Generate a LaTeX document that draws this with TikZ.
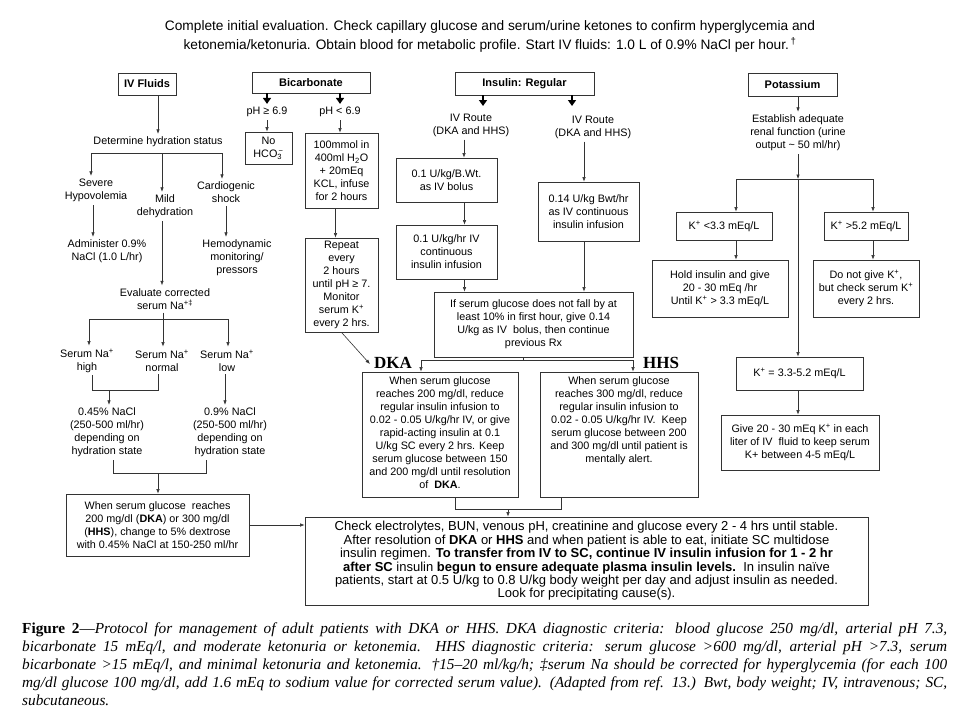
\documentclass[tikz,border=0pt]{standalone}
\usepackage{fontspec}
\setmainfont{Liberation Sans}
\newfontfamily\capserif{Liberation Serif}
\usetikzlibrary{arrows.meta,calc}
\newcommand\fs{\fontsize{10.8}{13}\selectfont}
\newcommand\capline[1]{\makebox[925pt][s]{#1}}
\begin{document}
\begin{tikzpicture}[x=1pt,y=-1pt,
  box/.style={draw=black!80, line width=0.8pt, align=center, inner sep=2pt, font=\fs},
  lbl/.style={align=center, inner sep=3pt, font=\fs},
  hdr/.style={draw=black!80, line width=0.8pt, font=\fontsize{11}{13}\selectfont\bfseries, inner sep=0pt},
  arr/.style={draw=black!80, line width=0.6pt, -{Latex[length=4.5pt,width=3.5pt]}},
  thk/.style={draw=black, line width=1.5pt, -{Triangle[length=6pt,width=8pt]}},
  ln/.style={draw=black!80, line width=0.6pt},
  big/.style={font=\capserif\fontsize{17}{17}\selectfont\bfseries, inner sep=1pt}]
\useasboundingbox (0,0) rectangle (960,720);
\fill[white] (0,0) rectangle (960,720);

% header
\node[font=\fontsize{13.7}{19}\selectfont, align=center] (head) at (490,36.5)
 {Complete initial evaluation. Check capillary glucose and serum/urine ketones to confirm hyperglycemia and\\
  ketonemia/ketonuria. Obtain blood for metabolic profile. Start IV fluids: 1.0 L of 0.9\% NaCl per hour.\textsuperscript{\,†}};

\node[hdr, minimum width=58, minimum height=22] (ivf) at (147,84) {IV Fluids};
\node[hdr, minimum width=118, minimum height=21] (bic) at (311,82.5) {Bicarbonate};
\node[hdr, minimum width=139, minimum height=23] (ins) at (524.5,83.5) {Insulin: Regular};
\node[hdr, minimum width=89, minimum height=23] (pot) at (792.5,84.5) {Potassium};

% IV fluids column
\node[lbl] (dhs) at (158,142) {Determine hydration status};
\draw[arr] (ivf.south -| dhs.north) -- (dhs.north);
\coordinate (b1) at (91,153); \coordinate (b2) at (162,153); \coordinate (b3) at (222,153);
\draw[ln] (b1) -- (b3);
\node[lbl] (sev) at (96,190.5) {Severe\\Hypovolemia};
\node[lbl] (mild) at (165,206.5) {Mild\\dehydration};
\node[lbl] (card) at (226,192.5) {Cardiogenic\\shock};
\draw[arr] (b1) -- (b1 |- sev.north);
\draw[arr] (b2) -- (b2 |- mild.north);
\draw[arr] (b3) -- (b3 |- card.north);
\node[lbl] (adm) at (107,251.5) {Administer 0.9\%\\NaCl (1.0 L/hr)};
\node[lbl] (hemo) at (237,258) {Hemodynamic\\monitoring/\\pressors};
\node[lbl] (evs) at (165,299) {Evaluate corrected\\serum Na\textsuperscript{+‡}};
\draw[arr] ([xshift=-3]sev.south) -- ([xshift=-3]sev.south |- adm.north);
\draw[arr] (card.south) -- (card.south |- hemo.north);
\draw[arr] ([xshift=-3]mild.south) -- ([xshift=-3]mild.south |- evs.north);

\coordinate (c1) at (89,319); \coordinate (c2) at (163,319); \coordinate (c3) at (228,319);
\draw[ln] (evs.south -| c2) -- (c2);
\draw[ln] (c1) -- (c3);
\node[lbl] (nah) at (87,360.5) {Serum Na\textsuperscript{+}\\high};
\node[lbl] (nan) at (162,360.5) {Serum Na\textsuperscript{+}\\normal};
\node[lbl] (nal) at (227,360.5) {Serum Na\textsuperscript{+}\\low};
\draw[arr] (c1) -- (c1 |- nah.north);
\draw[arr] (c2) -- (c2 |- nan.north);
\draw[arr] (c3) -- (c3 |- nal.north);
\coordinate (d1) at (92,390); \coordinate (d2) at (158,390); \coordinate (d0) at (109,390);
\draw[ln] (nah.south -| d1) -- (d1) -- (d2) -- (nan.south -| d2);
\node[lbl] (s045) at (107,432.5) {0.45\% NaCl\\(250-500 ml/hr)\\depending on\\hydration state};
\node[lbl] (s09) at (230,432.5) {0.9\% NaCl\\(250-500 ml/hr)\\depending on\\hydration state};
\draw[arr] (d0) -- (d0 |- s045.north);
\draw[arr] ([xshift=-2]nal.south) -- ([xshift=-2]nal.south |- s09.north);
\coordinate (e1) at (113,473); \coordinate (e2) at (206,473); \coordinate (e0) at (158,473);
\draw[ln] (s045.south -| e1) -- (e1) -- (e2) -- (s09.south -| e2);
\node[box, minimum width=183, minimum height=62] (ivd) at (157.5,525)
 {When serum glucose\ \ reaches\\200 mg/dl (\textbf{DKA}) or 300 mg/dl\\(\textbf{HHS}), change to 5\% dextrose\\with 0.45\% NaCl at 150-250 ml/hr};
\draw[arr] (e0) -- (e0 |- ivd.north);

% Bicarbonate column
\node[lbl] (ph1) at (267,112) {pH ≥ 6.9};
\node[lbl] (ph2) at (340,112) {pH < 6.9};
\draw[thk] (bic.south -| ph1.north) -- (ph1.north);
\draw[thk] (bic.south -| ph2.north) -- (ph2.north);
\node[box, minimum width=47, minimum height=32] (noh) at (268.5,148) {No\\HCO\rlap{\textsubscript{3}}\textsuperscript{\,−}};
\draw[arr] (ph1.south) -- (noh.north -| ph1.south);
\node[box, minimum width=73, minimum height=75] (b100) at (341.5,170.5)
 {100mmol in\\400ml H\textsubscript{2}O\\+ 20mEq\\KCL, infuse\\for 2 hours};
\draw[arr] (ph2.south) -- (ph2.south |- b100.north);
\node[box, minimum width=73, minimum height=94] (brep) at (341.5,285)
 {Repeat\\every\\2 hours\\until pH ≥ 7.\\Monitor\\serum K\textsuperscript{+}\\every 2 hrs.};
\draw[arr] ([xshift=-6]b100.south) -- ([xshift=-6]brep.north);
\node[big] (dkal) at (393,363) {DKA};
\node[big] (hhsl) at (661,363) {HHS};
\draw[arr] (brep.south) -- ([shift={(-3,1)}]dkal.west);

% Insulin column
\node[lbl] (ivr1) at (471,125) {IV Route\\(DKA and HHS)};
\node[lbl] (ivr2) at (593,127) {IV Route\\(DKA and HHS)};
\coordinate (g1) at (483,106); \coordinate (g2) at (572,106);
\draw[thk] (ins.south -| g1) -- (g1);
\draw[thk] (ins.south -| g2) -- (g2);
\node[box, minimum width=101, minimum height=44] (bol) at (446.5,180) {0.1 U/kg/B.Wt.\\as IV bolus};
\draw[arr] ([xshift=-7]ivr1.south) -- ([xshift=-7]ivr1.south |- bol.north);
\node[box, minimum width=101, minimum height=54] (cont) at (446.5,252) {0.1 U/kg/hr IV\\continuous\\insulin infusion};
\draw[arr] ([xshift=18]bol.south) -- ([xshift=18]cont.north);
\node[box, minimum width=101, minimum height=59] (cont2) at (588.5,211.5) {0.14 U/kg Bwt/hr\\as IV continuous\\insulin infusion};
\draw[arr] ([xshift=-9]ivr2.south) -- ([xshift=-9]ivr2.south |- cont2.north);
\node[box, minimum width=199, minimum height=65] (fall) at (533.5,324.5)
 {If serum glucose does not fall by at\\least 10\% in first hour, give 0.14\\U/kg as IV\ \ bolus, then continue\\previous Rx};
\draw[arr] ([xshift=-4.5]cont2.south) -- ([xshift=-4.5]cont2.south |- fall.north);
\draw[arr] ([xshift=18]cont.south) -- ([xshift=18]cont.south |- fall.north);
\coordinate (k0) at (523,360); \coordinate (k1) at (421,360); \coordinate (k2) at (633,360);
\draw[ln] (fall.south -| k0) -- (k0);
\draw[ln] (k1) -- (k2);
\node[box, minimum width=156, minimum height=125] (dka) at (440,434.5) {};
\node[box, minimum width=158, minimum height=125] (hhs) at (619,434.5) {};
\draw[arr] (k1) -- (k1 |- dka.north);
\draw[arr] (k2) -- (k2 |- hhs.north);
\node[lbl, anchor=north, inner sep=0pt] (dkat) at ([yshift=-5]dka.north)
 {When serum glucose\\reaches 200 mg/dl, reduce\\regular insulin infusion to\\0.02 - 0.05 U/kg/hr IV, or give\\rapid-acting insulin at 0.1\\U/kg SC every 2 hrs. Keep\\serum glucose between 150\\and 200 mg/dl until resolution\\of\ \ \textbf{DKA}.};
\node[lbl, anchor=north, inner sep=0pt] (hhst) at ([yshift=-5]hhs.north)
 {When serum glucose\\reaches 300 mg/dl, reduce\\regular insulin infusion to\\0.02 - 0.05 U/kg/hr IV.\ \ Keep\\serum glucose between 200\\and 300 mg/dl until patient is\\mentally alert.};
\coordinate (m1) at (455,509); \coordinate (m2) at (561,509); \coordinate (m0) at (508,509);
\draw[ln] (dka.south -| m1) -- (m1) -- (m2) -- (hhs.south -| m2);
\node[box, minimum width=563, minimum height=88, font=\fontsize{13}{13.4}\selectfont] (fin) at (586.5,561)
 {Check electrolytes, BUN, venous pH, creatinine and glucose every 2 - 4 hrs until stable.\\
  After resolution of \textbf{DKA} or \textbf{HHS} and when patient is able to eat, initiate SC multidose\\
  insulin regimen. \textbf{To transfer from IV to SC, continue IV insulin infusion for 1 - 2 hr}\\
  \textbf{after SC} insulin \textbf{begun to ensure adequate plasma insulin levels.}\ \ In insulin naïve\\
  patients, start at 0.5 U/kg to 0.8 U/kg body weight per day and adjust insulin as needed.\\
  Look for precipitating cause(s).};
\draw[arr] (m0) -- (m0 |- fin.north);
\draw[arr] (ivd.east) -- (ivd.east -| fin.west);

% Potassium column
\node[lbl] (ren) at (798,133) {Establish adequate\\renal function (urine\\output \textasciitilde{} 50 ml/hr)};
\draw[arr] (pot.south -| ren.north) -- (ren.north);
\coordinate (p0) at (798,179); \coordinate (p1) at (736,179); \coordinate (p2) at (873,179);
\draw[arr] (ren.south) -- (p0);
\draw[ln] (p1) -- (p2);
\node[box, minimum width=96, minimum height=28] (klo) at (724,226) {K\textsuperscript{+} <3.3 mEq/L};
\node[box, minimum width=84, minimum height=28] (khi) at (866,226) {K\textsuperscript{+} >5.2 mEq/L};
\draw[arr] (p1) -- (p1 |- klo.north);
\draw[arr] (p2) -- (p2 |- khi.north);
\node[box, minimum width=136, minimum height=57] (hold) at (720,288.5) {Hold insulin and give\\20 - 30 mEq /hr\\Until K\textsuperscript{+} > 3.3 mEq/L};
\node[box, minimum width=106, minimum height=57] (dont) at (866,288.5) {Do not give K\textsuperscript{+},\\but check serum K\textsuperscript{+}\\every 2 hrs.};
\draw[arr] (klo.south -| p1) -- (hold.north -| p1);
\draw[arr] (khi.south -| p2) -- (dont.north -| p2);
\node[box, minimum width=127, minimum height=33] (kmid) at (799.5,373.5) {K\textsuperscript{+} = 3.3-5.2 mEq/L};
\draw[arr] (p0) -- (p0 |- kmid.north);
\node[box, minimum width=158, minimum height=55] (give) at (800,442.5) {Give 20 - 30 mEq K\textsuperscript{+} in each\\liter of IV\ \ fluid to keep serum\\K+ between 4-5 mEq/L};
\draw[arr] (kmid.south -| p0) -- (give.north -| p0);

% caption
\node[anchor=north west, inner sep=0pt, align=left, font=\capserif\fontsize{15.3}{17.8}\selectfont] (cap) at (22,623)
 {\capline{\textbf{Figure 2}—\textit{Protocol for management of adult patients with DKA or HHS. DKA diagnostic criteria: blood glucose 250 mg/dl, arterial pH 7.3,}}\\
  \capline{\textit{bicarbonate 15 mEq/l, and moderate ketonuria or ketonemia. HHS diagnostic criteria: serum glucose >600 mg/dl, arterial pH >7.3, serum}}\\
  \capline{\textit{bicarbonate >15 mEq/l, and minimal ketonuria and ketonemia. †15–20 ml/kg/h; ‡serum Na should be corrected for hyperglycemia (for each 100}}\\
  \capline{\textit{mg/dl glucose 100 mg/dl, add 1.6 mEq to sodium value for corrected serum value). (Adapted from ref. 13.) Bwt, body weight; IV, intravenous; SC,}}\\
  \textit{subcutaneous.}};
\end{tikzpicture}
\end{document}
